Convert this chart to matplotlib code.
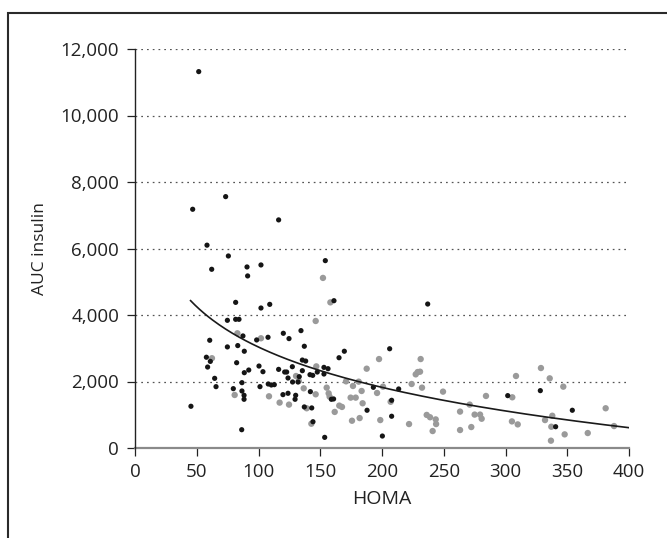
import matplotlib
matplotlib.use("Agg")
import matplotlib.pyplot as plt
import numpy as np
from matplotlib.ticker import FuncFormatter
from matplotlib.patches import Rectangle

plt.rcParams['font.family'] = ['Open Sans', 'DejaVu Sans']

# ---- data ----
black_x = [46.7, 116.3, 58.3, 75.6, 62.1, 90.7, 91.2, 102, 154.1, 161.1, 81.5, 102, 109.1, 74.8, 81.5, 84.2,
           60.5, 87.4, 98.5, 107.7, 120.1, 124.7, 134.4, 137.1, 74.8, 83.2, 88.5, 57.8, 61, 58.8, 82.3, 64.5,
           65.6, 45.3, 86.4, 86.6, 79.6, 86.6, 88.3, 88.3, 88.5, 92.1, 100.4, 103.6, 101.2, 107.9, 110.4, 112.8,
           116.3, 121.2, 122.8, 123.9, 127.4, 127.6, 132, 133, 135.5, 135.5, 138.2, 119.8, 123.9, 130.1, 129.6,
           137.1, 143.1, 142, 141.7, 143.9, 147.6, 153, 156.3, 153, 144.1, 153.6, 159, 160.8, 165.2, 169.5,
           187.9, 193, 206.2, 200.3, 237, 213.5, 207.8, 207.8, 301.8, 328.2, 354.1, 340.6, 51.6, 73.4]
black_y = [7180, 6860, 6100, 5775, 5375, 5445, 5175, 5505, 5635, 4430, 4380, 4210, 4320, 3840, 3870, 3870,
           3240, 3370, 3250, 3330, 3450, 3290, 3530, 3060, 3040, 3080, 2910, 2730, 2605, 2435, 2565, 2095,
           1845, 1255, 550, 1965, 1785, 1715, 1585, 1465, 2265, 2345, 2465, 2295, 1845, 1925, 1895, 1905,
           2365, 2285, 2285, 2105, 2445, 1985, 1985, 2145, 2325, 2645, 2615, 1605, 1645, 1585, 1465,
           1235, 1205, 1695, 2205, 2185, 2285, 2425, 2385, 2225, 790, 320, 1465, 1475, 2715, 2910,
           1135, 1825, 2985, 360, 4330, 1775, 1435, 955, 1575, 1725, 1135, 640, 11320, 7560]

gray_x = [152.2, 158.2, 146.3, 82.9, 102, 62.3, 80.7, 108.5, 117.1, 124.7, 130.4, 132.6, 136.6, 139, 142.8,
          146.3, 146.8, 155.2, 156.8, 157.6, 161.7, 165.4, 167.6, 170.9, 174.6, 176.5, 178.7, 181.1, 183.5,
          184.3, 175.7, 181.9, 187.6, 197.6, 196, 198.6, 200.8, 207, 224, 221.9, 231.3, 227.3, 228.9, 230.8,
          232.4, 236.2, 238.9, 243.5, 243.8, 241, 249.4, 263.2, 263.2, 271, 275, 279.4, 280.7, 272.3, 284.2,
          305.5, 305.2, 309.9, 308.5, 328.7, 335.8, 346.8, 332, 337.9, 337.1, 336.8, 347.9, 366.6, 381.1, 387.9]
gray_y = [5115, 4380, 3820, 3450, 3300, 2700, 1595, 1555, 1365, 1305, 2165, 2015, 1795, 1195, 730,
          1615, 2455, 1815, 1645, 1545, 1085, 1275, 1235, 2005, 1515, 1865, 1515, 1995, 1715,
          1345, 820, 900, 2385, 2675, 1655, 840, 1845, 1390, 1925, 720, 2675, 2215, 2285, 2295,
          1815, 995, 925, 860, 720, 510, 1695, 1095, 540, 1305, 1005, 1005, 880, 630, 1565,
          1525, 800, 710, 2165, 2405, 2095, 1845, 840, 970, 640, 220, 410, 450, 1195, 660]

# logarithmic fit y = fit_a + fit_b * ln(x)
fit_a = 11090
fit_b = -1749
fit_x_range = [45, 400]

x_ticks = [0, 50, 100, 150, 200, 250, 300, 350, 400]
y_ticks = [0, 2000, 4000, 6000, 8000, 10000, 12000]

# ---- figure ----
fig = plt.figure(figsize=(6.67, 5.38), dpi=100)
ax = fig.add_axes([135 / 667, 1 - 448 / 538, 494 / 667, 399 / 538])

# frame around the figure (right/bottom edges fall outside the picture)
fig.patches.append(Rectangle((8 / 667, -0.2), 1.2, 1 - 13 / 538 + 0.2, transform=fig.transFigure,
                             fill=False, edgecolor='#2a2a2a', linewidth=1.5, clip_on=False))

for yv in y_ticks[1:]:
    ax.axhline(yv, color='#555555', linestyle=(0, (1.4, 3.2)), linewidth=0.9, zorder=1)

ax.scatter(gray_x, gray_y, s=21, color='#9a9a9a', edgecolors='none', zorder=2)
ax.scatter(black_x, black_y, s=14, color='#151515', edgecolors='none', zorder=3)

xs = np.linspace(fit_x_range[0], fit_x_range[1], 200)
ax.plot(xs, fit_a + fit_b * np.log(xs), color='#1a1a1a', linewidth=1.2, zorder=4)

ax.set_xlim(0, 400)
ax.set_ylim(0, 12000)
ax.set_xticks(x_ticks)
ax.set_yticks(y_ticks)
ax.yaxis.set_major_formatter(FuncFormatter(lambda v, p: f"{v:,.0f}"))

for s in ['top', 'right']:
    ax.spines[s].set_visible(False)
ax.spines['left'].set_color('#222222')
ax.spines['left'].set_linewidth(1.0)
ax.spines['bottom'].set_color('#8a8a8a')
ax.spines['bottom'].set_linewidth(1.6)
ax.spines['left'].set_zorder(5)

ax.tick_params(axis='both', direction='out', length=5.5, width=0.9, color='#222222',
               labelsize=13.5, labelcolor='#222222', pad=5)
ax.tick_params(axis='y', pad=6)

ax.set_xlabel('HOMA', fontsize=14, color='#222222', labelpad=7)
ax.set_ylabel('AUC insulin', fontsize=12.5, color='#222222', labelpad=9)

fig.savefig('out.png', dpi=100)
